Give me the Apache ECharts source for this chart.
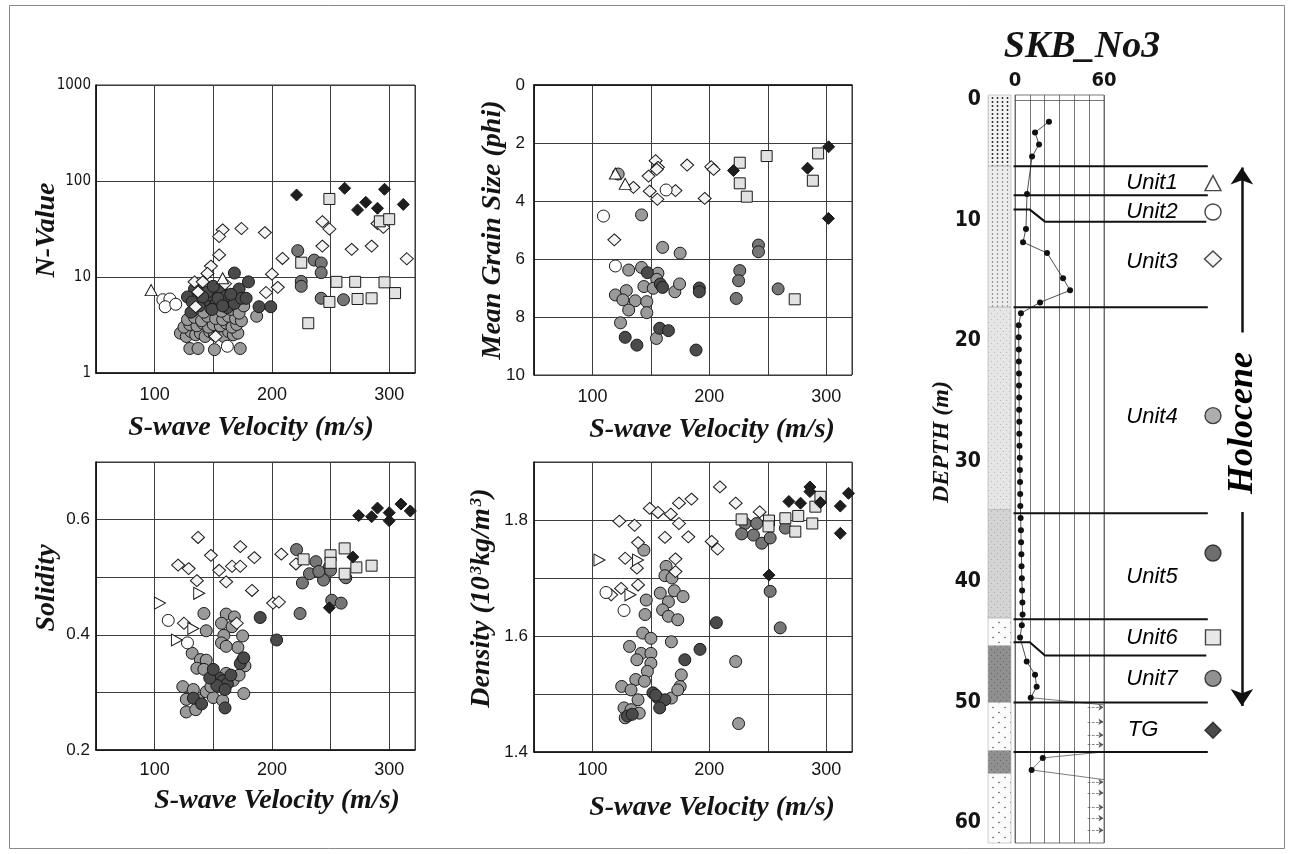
<!DOCTYPE html>
<html><head><meta charset="utf-8">
<script src="https://cdn.jsdelivr.net/npm/echarts@6/dist/echarts.min.js"></script>
<style>html,body{margin:0;padding:0;background:#fff}#c{width:1289px;height:854px}</style>
</head><body><div id="c"></div>
<script>
// ---------------- DATA ----------------
const unitNames = ['Unit1','Unit2','Unit3','Unit4','Unit5','Unit6','Unit7','TG'];
const velLabels = [100, 200, 300];
const nLabels = [1, 10, 100, 1000];
const grainLabels = [0, 2, 4, 6, 8, 10];
const solLabels = [0.2, 0.4, 0.6];
const densLabels = [1.4, 1.6, 1.8];
const depthLabels = [0, 10, 20, 30, 40, 50, 60];
const nBoxLabels = [0, 60];

// Panel 1: S-wave velocity vs N-value
const nv_unit1 = [[97,7.3],[158,9.7]];
const nv_unit2 = [[107,5.8],[113,5.9],[109,4.9],[162,1.9],[118,5.2]];
const nv_unit3 = [[158,31],[155,26.4],[174,32],[194,29],[155,17],[148,13],[145,10.9],[209,15.6],[200,10.7],[243,37.7],[249,31.6],[243,21],[268,19.4],[134,8.9],[141,8.9],[137,7],[195,6.9],[205,7.8],[152,2.4],[135,4.9],[160,8.5],[290,36],[295,33],[285,21],[315,15.5]];
const nv_unit4 = [[122,2.6],[127,2.4],[131,2.7],[135,2.5],[139,2.6],[143,2.4],[147,2.7],[151,2.5],[155,2.6],[159,2.4],[163,2.7],[167,2.5],[171,2.6],[125,3.0],[130,3.2],[136,3.1],[141,3.3],[146,3.0],[150,3.2],[156,3.1],[161,3.3],[166,3.0],[170,3.2],[128,3.6],[134,3.8],[140,3.5],[145,3.9],[152,3.7],[158,3.6],[163,3.9],[169,3.7],[174,3.5],[130,1.8],[137,1.8],[151,1.75],[173,1.8],[133,4.5],[142,4.3],[148,4.7],[157,4.4],[165,4.6],[172,4.2],[176,5.0],[160,5.5],[136,6.0],[187,3.9]];
const nv_unit5 = [[134,7.5],[139,6.8],[128,6.2],[143,5.8],[147,6.5],[152,5.2],[157,7.2],[161,6.3],[166,5.7],[170,6.8],[138,5.0],[132,5.5],[149,4.6],[154,6.0],[162,4.8],[168,5.3],[172,7.5],[145,7.0],[131,4.3],[158,5.0],[174,6.0],[141,6.2],[150,8.0],[165,6.6],[180,8.9],[189,4.9],[199,4.9],[168,11],[178,6]];
const nv_unit6 = [[249,65],[225,14.1],[255,8.9],[271,8.9],[249,5.5],[273,5.9],[231,3.3],[292,38],[300,40],[296,8.8],[305,6.8],[285,6.0]];
const nv_unit7 = [[222,18.8],[236,15],[242,14],[242,11.1],[225,9],[225,8],[242,6],[261,5.8]];
const nv_tg = [[221,71.5],[262,84],[296,82],[280,60],[273,50],[290,52],[312,57]];

// Panel 2: S-wave velocity vs mean grain size
const gs_unit1 = [[119.6,3.05],[128,3.41]];
const gs_unit2 = [[109.4,4.52],[163,3.62],[119.6,6.24]];
const gs_unit3 = [[135,3.53],[154,2.61],[156,2.84],[155,2.91],[148,3.14],[149,3.66],[155.5,3.94],[171,3.64],[181,2.76],[201.6,2.82],[203.6,2.91],[196,3.91],[118.7,5.34]];
const gs_unit4 = [[122,3.07],[142,4.48],[160,5.6],[175,5.8],[131,6.38],[142,6.29],[156,6.49],[155,6.7],[144,6.95],[152,7.01],[170.5,7.13],[174.5,6.86],[119.6,7.24],[129,7.09],[126,7.41],[136.6,7.44],[131,7.76],[146.5,7.47],[146.5,7.85],[124,8.2],[154.7,8.74]];
const gs_unit5 = [[147,6.47],[158,6.86],[160,6.98],[191.4,7.0],[191.4,7.13],[128,8.7],[138,8.97],[157.5,8.39],[165,8.47],[188.6,9.14]];
const gs_unit6 = [[226,2.68],[249,2.45],[293,2.36],[226,3.39],[232,3.85],[288.5,3.3],[273,7.39]];
const gs_unit7 = [[223,7.36],[226,6.4],[225,6.75],[242,5.52],[242,5.75],[258.8,7.03]];
const gs_tg = [[220.6,2.95],[284,2.87],[302,2.13],[301.8,4.6]];

// Panel 3: S-wave velocity vs solidity
const so_unit1 = [[104.5,0.455],[138,0.472],[133,0.411],[119,0.391]];
const so_unit2 = [[111.6,0.425],[128,0.386]];
const so_unit3 = [[137,0.569],[148,0.538],[173,0.553],[185,0.534],[120,0.521],[129,0.515],[155,0.512],[166,0.519],[173,0.519],[136,0.494],[161,0.492],[183,0.477],[208,0.540],[220.5,0.523],[201,0.455],[206,0.457],[125,0.42],[170,0.42]];
const so_unit4 = [[142,0.437],[161,0.436],[168,0.431],[157,0.42],[166,0.414],[144,0.407],[159,0.399],[175,0.398],[157,0.386],[171,0.378],[161,0.38],[132,0.368],[139,0.357],[144,0.356],[136,0.342],[142,0.34],[161,0.333],[157,0.321],[167,0.321],[175,0.356],[177,0.346],[172,0.33],[176,0.298],[124,0.31],[133,0.305],[127,0.288],[137,0.287],[144,0.301],[150,0.291],[158,0.286],[127,0.266],[135,0.27],[153,0.317],[148,0.31]];
const so_unit5 = [[190,0.43],[204,0.391],[150,0.33],[155,0.325],[158,0.32],[162,0.315],[153,0.312],[160,0.305],[133,0.29],[140,0.28],[147,0.325],[165,0.33],[173,0.35],[176,0.36],[160,0.273],[150,0.34]];
const so_unit6 = [[227,0.531],[250,0.538],[250,0.525],[262,0.55],[262,0.506],[272,0.517],[285,0.52]];
const so_unit7 = [[224,0.437],[221,0.548],[232,0.506],[237.5,0.527],[249,0.518],[226,0.49],[244,0.495],[250,0.512],[263,0.499],[251,0.46],[259,0.455],[240,0.51]];
const so_tg = [[269,0.535],[249,0.447],[274,0.607],[290,0.62],[300,0.612],[310,0.627],[318,0.615],[300,0.598],[285,0.605]];

// Panel 4: S-wave velocity vs density
const de_unit1 = [[106,1.731],[139,1.731],[132.5,1.671]];
const de_unit2 = [[111.6,1.675],[127,1.644]];
const de_unit3 = [[123,1.798],[136,1.791],[149,1.82],[156,1.813],[167,1.81],[174,1.829],[184.7,1.836],[174,1.794],[162,1.77],[182,1.771],[209,1.857],[222.5,1.829],[243,1.814],[202,1.763],[207,1.75],[139,1.761],[128,1.734],[138,1.717],[171,1.733],[171,1.711],[139,1.688],[124.5,1.682],[116,1.671]];
const de_unit4 = [[144,1.748],[163,1.72],[162,1.704],[168,1.7],[158,1.674],[170,1.678],[177.5,1.668],[165,1.659],[146,1.662],[160,1.645],[165,1.634],[173,1.628],[145,1.637],[143,1.605],[150,1.596],[167.5,1.59],[131.7,1.582],[141.7,1.57],[150,1.57],[138,1.559],[150,1.553],[147,1.539],[137,1.525],[144.5,1.522],[125,1.513],[133,1.507],[139,1.49],[127,1.476],[133,1.473],[140,1.467],[128,1.459],[167.5,1.493],[175,1.513],[176,1.533],[173,1.507],[222.5,1.556],[225,1.449]];
const de_unit5 = [[151.7,1.502],[156,1.493],[162,1.49],[157.5,1.476],[206,1.623],[192,1.577],[179,1.559],[130,1.462],[134,1.465],[154,1.498]];
const de_unit6 = [[227.6,1.801],[251,1.799],[265,1.803],[276,1.807],[288,1.794],[295,1.84],[290.7,1.823],[250.6,1.789],[273.5,1.78]];
const de_unit7 = [[230.5,1.794],[227.6,1.776],[237.7,1.774],[244.8,1.76],[252,1.769],[240.5,1.794],[265,1.786],[252,1.677],[260.6,1.614]];
const de_tg = [[286,1.857],[286,1.849],[268,1.832],[278,1.829],[295,1.83],[312,1.824],[312,1.777],[319,1.846],[251,1.705]];

// Borehole SKB_No3: lithology (depth m)
const lithoTop =    [-0.41, 5.5, 17.2, 34.0, 43.0, 45.3, 50.0, 54.0, 55.9];
const lithoBottom = [5.5, 17.2, 34.0, 43.0, 45.3, 50.0, 54.0, 55.9, 61.66];
const lithoType =   [0, 1, 2, 3, 4, 5, 4, 5, 4];
// N-value profile: [N, depth]
const nProfile = [[22.9,1.8],[13.5,2.7],[16.2,3.7],[11.5,4.7],[8.1,7.8],[7.4,10.7],[5.4,11.8],[21.6,12.7],[32.4,14.8],[37.1,15.8],[16.9,16.8],[4.0,17.7],
 [2.5,18.7],[2.5,19.7],[2.6,20.7],[2.6,21.7],[2.7,22.7],[2.7,23.7],[2.8,24.7],[2.8,25.7],[2.9,26.7],[2.9,27.7],[3.0,28.7],[3.2,29.7],[3.3,30.7],[3.4,31.7],[3.5,32.7],[3.6,33.7],[3.8,34.7],[4.0,35.7],[4.1,36.7],[4.3,37.7],[4.4,38.7],[4.6,39.7],[4.8,40.7],[5.0,41.7],[5.1,42.7],[4.6,43.6],[3.4,44.6],
 [7.9,46.6],[13.5,47.7],[14.6,48.7],[10.6,49.6]];
const nProfileTG = [[18.7,54.6],[11.2,55.6]];
const nOverLink1 = [[10.6,49.6],[60,50.2]];
const nOverLink2 = [[60,54.1],[18.7,54.6],[11.2,55.6],[60,56.4]];
const nOverDepths = [50.4, 51.6, 52.7, 53.5, 56.6, 57.5, 58.7, 59.6, 60.6];
// unit boundaries (depth m)
const boundaryFlat = [5.5, 7.9, 17.2, 34.3, 43.1, 50.0, 54.1];
const boundarySlant = [[9.1, 10.1], [45.0, 46.1]];
const unitLabelDepth = [6.9, 9.3, 13.4, 26.3, 39.6, 44.6, 48.0, 52.3];
const unitSymbolDepth = [6.9, 9.3, 13.2, 26.2, 37.6, 44.6, 48.0, 52.3];

// ---------------- STYLE ----------------
const panels = [
  [nv_unit1, nv_unit2, nv_unit3, nv_unit4, nv_unit5, nv_unit6, nv_unit7, nv_tg],
  [gs_unit1, gs_unit2, gs_unit3, gs_unit4, gs_unit5, gs_unit6, gs_unit7, gs_tg],
  [so_unit1, so_unit2, so_unit3, so_unit4, so_unit5, so_unit6, so_unit7, so_tg],
  [de_unit1, de_unit2, de_unit3, de_unit4, de_unit5, de_unit6, de_unit7, de_tg]
];
const unitStyle = [
  {symbol:'triangle', size:[12,11], fill:'#ffffff'},
  {symbol:'circle', size:12, fill:'#ffffff'},
  {symbol:'diamond', size:[13,12], fill:'#f4f4f4'},
  {symbol:'circle', size:12, fill:'#9a9a9a'},
  {symbol:'circle', size:12, fill:'#4a4a4a'},
  {symbol:'rect', size:11, fill:'#e2e2e2'},
  {symbol:'circle', size:12, fill:'#767676'},
  {symbol:'diamond', size:[12,12], fill:'#1e1e1e'}
];
const drawOrder = [3, 6, 4, 2, 1, 0, 5, 7];

const serif = "'Liberation Serif','Times New Roman',serif";
const sans = "'Liberation Sans',Arial,sans-serif";
const narrow = "'Liberation Sans Narrow','DejaVu Sans Condensed','Liberation Sans',sans-serif";
const txt = '#141414';

function mkPattern(bg, dot, sx, sy, r, stagger) {
  const c = document.createElement('canvas'); c.width = sx * 2; c.height = sy * 2;
  const g = c.getContext('2d'); g.fillStyle = bg; g.fillRect(0, 0, c.width, c.height);
  g.fillStyle = dot;
  const pts = stagger ? [[sx*0.5, sy*0.5], [sx*1.5, sy*1.5]] : [[sx*0.5, sy*0.5], [sx*1.5, sy*0.5], [sx*0.5, sy*1.5], [sx*1.5, sy*1.5]];
  pts.forEach(p => { g.beginPath(); g.arc(p[0], p[1], r, 0, Math.PI * 2); g.fill(); });
  return {image: c, repeat: 'repeat'};
}
const patterns = [
  mkPattern('#f2f2f2', '#222', 5, 4, 0.9, false),
  mkPattern('#ececec', '#666', 5, 4, 0.7, false),
  mkPattern('#e6e6e6', '#b4b4b4', 3, 3, 0.6, true),
  mkPattern('#d4d4d4', '#a6a6a6', 3, 3, 0.6, true),
  mkPattern('#fbfbfb', '#555', 6, 5, 0.8, true),
  mkPattern('#909090', '#6a6a6a', 3, 3, 0.7, true)
];

const chart = echarts.init(document.getElementById('c'), null, {renderer: 'canvas', width: 1289, height: 854});

const gridCfg = {show: true, borderColor: '#333', borderWidth: 1, backgroundColor: '#fff'};
const grids = [
  Object.assign({left: 96, top: 85, width: 319, height: 288}, gridCfg),
  Object.assign({left: 534, top: 85, width: 318, height: 290}, gridCfg),
  Object.assign({left: 96, top: 462, width: 319, height: 288}, gridCfg),
  Object.assign({left: 534, top: 462, width: 318, height: 290}, gridCfg),
  {left: 988, top: 95, width: 23, height: 748},
  {left: 1015, top: 95, width: 89, height: 748, show: true, borderColor: '#555', borderWidth: 0.8},
  {left: 1005, top: 95, width: 255, height: 748}
];

const axLine = {show: true, lineStyle: {color: '#111', width: 1.6}};
const split = {show: true, lineStyle: {color: '#3c3c3c', width: 1}};
function velAxis(gi, margin) {
  return {gridIndex: gi, type: 'value', min: 50, max: 322, interval: 50,
    axisLine: axLine, axisTick: {show: false}, splitLine: split,
    axisLabel: {margin: margin, fontSize: 18, color: txt, fontFamily: sans,
      formatter: v => velLabels.includes(v) ? String(v) : ''}};
}
const depthMin = -0.41, depthMax = 61.66;
const xAxes = [
  velAxis(0, 13), velAxis(1, 13), velAxis(2, 11), velAxis(3, 9),
  {gridIndex: 4, type: 'value', min: 0, max: 1, show: false},
  {gridIndex: 5, type: 'value', position: 'top', min: 0, max: 60, interval: 10,
    axisLine: {show: true, lineStyle: {color: '#555', width: 0.8}}, axisTick: {show: false},
    splitLine: {show: true, lineStyle: {color: '#555', width: 0.8}},
    axisLabel: {margin: 4, fontSize: 20, fontWeight: 'bold', color: txt, fontFamily: narrow,
      formatter: v => nBoxLabels.includes(v) ? String(v) : ''}},
  {gridIndex: 6, type: 'value', min: -6.743, max: 165.2, show: false}
];
const yAxes = [
  {gridIndex: 0, type: 'log', logBase: 10, min: 1, max: 1000, axisLine: axLine, axisTick: {show: false}, splitLine: split,
    axisLabel: {margin: 5, fontSize: 15, color: txt, fontFamily: narrow, formatter: v => nLabels.includes(v) ? String(v) : ''}},
  {gridIndex: 1, type: 'value', inverse: true, min: 0, max: 10, interval: 2, axisLine: axLine, axisTick: {show: false}, splitLine: split,
    axisLabel: {margin: 9, fontSize: 17, color: txt, fontFamily: sans, formatter: v => grainLabels.includes(v) ? String(v) : ''}},
  {gridIndex: 2, type: 'value', min: 0.2, max: 0.7, interval: 0.1, axisLine: axLine, axisTick: {show: false}, splitLine: split,
    axisLabel: {margin: 6, fontSize: 17, color: txt, fontFamily: sans, showMaxLabel: false,
      formatter: v => { const r = Math.round(v * 10) / 10; return solLabels.includes(r) ? r.toFixed(1) : ''; }}},
  {gridIndex: 3, type: 'value', min: 1.4, max: 1.9, interval: 0.1, axisLine: axLine, axisTick: {show: false}, splitLine: split,
    axisLabel: {margin: 6, fontSize: 17, color: txt, fontFamily: sans, showMaxLabel: false,
      formatter: v => { const r = Math.round(v * 10) / 10; return densLabels.includes(r) ? r.toFixed(1) : ''; }}},
  {gridIndex: 4, type: 'value', inverse: true, min: depthMin, max: depthMax,
    axisLine: {show: false}, axisTick: {show: false}, splitLine: {show: false},
    axisLabel: {show: true, customValues: depthLabels, margin: 7, fontSize: 21, fontWeight: 'bold', color: txt, fontFamily: narrow}},
  {gridIndex: 5, type: 'value', inverse: true, min: depthMin, max: depthMax, show: false},
  {gridIndex: 6, type: 'value', inverse: true, min: depthMin, max: depthMax, show: false}
];

const series = [];
panels.forEach((units, gi) => {
  drawOrder.forEach(u => {
    const st = unitStyle[u];
    series.push({
      type: 'scatter', name: unitNames[u] + '_' + gi, xAxisIndex: gi, yAxisIndex: gi,
      data: units[u], symbol: st.symbol, symbolSize: st.size,
      symbolRotate: (u === 0 && gi >= 2) ? -90 : 0,
      itemStyle: {color: st.fill, borderColor: '#1a1a1a', borderWidth: 1, opacity: 1},
      z: 3 + drawOrder.indexOf(u), silent: true
    });
  });
});

// lithology column
series.push({
  type: 'custom', xAxisIndex: 4, yAxisIndex: 4, silent: true,
  data: lithoTop.map((t, i) => [0, t, lithoBottom[i], lithoType[i]]),
  encode: {x: 0, y: [1, 2]},
  renderItem: (params, api) => {
    const p1 = api.coord([0, api.value(1)]);
    const p2 = api.coord([1, api.value(2)]);
    return {type: 'rect', shape: {x: p1[0], y: p1[1], width: p2[0] - p1[0], height: p2[1] - p1[1]},
      style: {fill: patterns[api.value(3)], stroke: '#b0b0b0', lineWidth: 0.6}};
  }
});

// N-value profile
series.push({type: 'line', xAxisIndex: 5, yAxisIndex: 5, data: nProfile, symbol: 'circle', symbolSize: 6,
  itemStyle: {color: '#111'}, lineStyle: {color: '#222', width: 0.8}, silent: true, z: 5});
series.push({type: 'line', xAxisIndex: 5, yAxisIndex: 5, data: nProfileTG, symbol: 'circle', symbolSize: 6,
  itemStyle: {color: '#111'}, lineStyle: {width: 0}, silent: true, z: 5});
series.push({type: 'lines', coordinateSystem: 'cartesian2d', xAxisIndex: 5, yAxisIndex: 5, polyline: true, silent: true,
  data: [{coords: nOverLink1}, {coords: nOverLink2}], lineStyle: {color: '#444', width: 0.7, opacity: 1}, z: 4});
series.push({type: 'lines', coordinateSystem: 'cartesian2d', xAxisIndex: 5, yAxisIndex: 5, silent: true,
  symbol: ['none', 'arrow'], symbolSize: 5,
  data: nOverDepths.map(d => ({coords: [[49, d], [59.6, d]]})),
  lineStyle: {color: '#555', width: 0.7, type: 'dashed', opacity: 1}, z: 4});

// unit boundaries
const bData = boundaryFlat.map(d => ({coords: [[-1, d], [130, d]]}));
boundarySlant.forEach(s => bData.push({coords: [[-1, s[0]], [10, s[0]], [20.2, s[1]], [129, s[1]]]}));
series.push({type: 'lines', coordinateSystem: 'cartesian2d', xAxisIndex: 6, yAxisIndex: 6, polyline: true, silent: true,
  data: bData, lineStyle: {color: '#111', width: 2, opacity: 1}, z: 6});

// unit labels
const hiddenItem = {color: '#000', opacity: 0};
const labelBase = {show: true, position: 'inside', opacity: 1, textBorderWidth: 0, textShadowBlur: 0};
series.push({type: 'scatter', xAxisIndex: 6, yAxisIndex: 6, symbol: 'circle', symbolSize: 0.1,
  itemStyle: {color: 'transparent'}, silent: true,
  data: unitNames.map((n, i) => [i === 7 ? 86.3 : 92.4, unitLabelDepth[i], n]),
  label: Object.assign({formatter: p => p.data[2], fontSize: 22, fontStyle: 'italic',
    fontFamily: sans, color: '#000'}, labelBase), z: 7});
// legend symbols
unitNames.forEach((n, i) => {
  const st = unitStyle[i];
  series.push({type: 'scatter', xAxisIndex: 6, yAxisIndex: 6, silent: true,
    data: [[133.5, unitSymbolDepth[i]]], symbol: st.symbol,
    symbolSize: Array.isArray(st.size) ? st.size.map(v => v + 4) : st.size + 4,
    itemStyle: {color: st.fill, borderColor: '#1a1a1a', borderWidth: 1.4}, z: 7});
});
// Holocene arrow and label
series.push({type: 'lines', coordinateSystem: 'cartesian2d', xAxisIndex: 6, yAxisIndex: 6, silent: true,
  symbol: ['none', 'arrow'], symbolSize: 17,
  data: [{coords: [[153, 19.3], [153, 5.6]]}, {coords: [[153, 34.2], [153, 50.3]]}],
  lineStyle: {color: '#111', width: 2.5, opacity: 1}, z: 6});
series.push({type: 'scatter', xAxisIndex: 6, yAxisIndex: 6, symbol: 'circle', symbolSize: 0.1,
  itemStyle: {color: 'transparent'}, silent: true,
  data: [[153.5, 26.8, 'Holocene']],
  label: Object.assign({rotate: 90, formatter: p => p.data[2], fontSize: 36, fontWeight: 'bold',
    fontStyle: 'italic', fontFamily: serif, color: '#000'}, labelBase), z: 7});

const titleFont = 'italic bold 28px ' + serif;
function gText(text, x, y, rot, font) {
  return {type: 'text', x: x, y: y, rotation: rot || 0, silent: true,
    style: {text: text, font: font || titleFont, fill: txt, align: 'center', verticalAlign: 'middle'}};
}

chart.setOption({
  animation: false,
  backgroundColor: '#fff',
  grid: grids, xAxis: xAxes, yAxis: yAxes, series: series,
  graphic: [
    {type: 'rect', shape: {x: 9.5, y: 5.5, width: 1275, height: 843}, style: {fill: 'none', stroke: '#8a8a8a', lineWidth: 1}, silent: true, z: -10},
    gText('N-Value', 47, 230, Math.PI / 2),
    gText('Mean Grain Size (phi)', 493, 230, Math.PI / 2),
    gText('Solidity', 47, 588, Math.PI / 2),
    {type: 'text', x: 482, y: 598, rotation: Math.PI / 2, silent: true,
      style: {text: '{a|Density (10}{s|3}{a|kg/m}{s|3}{a|)}', align: 'center', verticalAlign: 'middle', fill: txt,
        rich: {a: {font: titleFont, fill: txt}, s: {font: 'italic bold 17px ' + serif, fill: txt, verticalAlign: 'top', padding: [0, 0, 10, 2]}}}},
    gText('S-wave Velocity (m/s)', 251, 428),
    gText('S-wave Velocity (m/s)', 712, 430),
    gText('S-wave Velocity (m/s)', 277, 801),
    gText('S-wave Velocity (m/s)', 712, 808),
    gText('SKB_No3', 1082, 47, 0, 'italic bold 38px ' + serif),
    gText('DEPTH (m)', 942, 442, Math.PI / 2, 'italic bold 24px ' + serif)
  ]
});
</script>
</body></html>
